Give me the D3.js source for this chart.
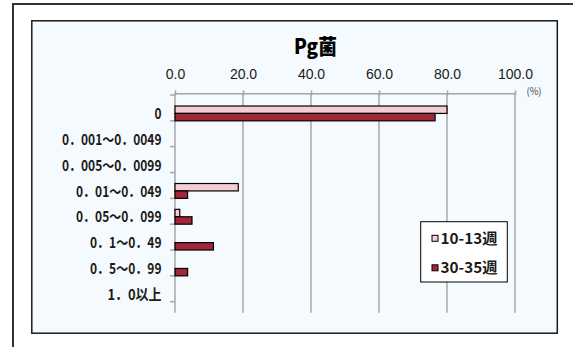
<!DOCTYPE html>
<html>
<head>
<meta charset="utf-8">
<script src="https://cdn.jsdelivr.net/npm/d3@7"></script>
<style>
  html, body { margin: 0; padding: 0; background: #ffffff; }
  svg { display: block; }
</style>
</head>
<body>
<svg id="chart" width="573" height="347"></svg>
<script>
// Category labels (concentration ranges) and the two series, in %.
const categories = [
  "0",
  "0．001～0．0049",
  "0．005～0．0099",
  "0．01～0．049",
  "0．05～0．099",
  "0．1～0．49",
  "0．5～0．99",
  "1．0以上"
];
const seriesNames = ["10-13週", "30-35週"];
const early = [80.0, 0, 0, 18.6, 1.4, 0, 0, 0];
const late = [76.5, 0, 0, 3.7, 5.0, 11.3, 3.7, 0];
const xTicks = [0, 20, 40, 60, 80, 100];
const colors = ["#f4ccd3", "#a0283a"];

const svg = d3.select("#chart");
const jpFont = "'Noto Sans CJK JP', 'Noto Sans CJK SC', sans-serif";

// Narrow, monospaced-looking widths for the condensed Gothic labels.
function labelWidth(s) {
  let w = 0;
  for (const ch of s) {
    if (ch === "．") w += 11.5;
    else if (ch === "～") w += 13.5;
    else if (ch.charCodeAt(0) > 255) w += 14.3;
    else w += 7.0;
  }
  return w;
}

// Outer frame (runs off the page on the right and bottom)
svg.append("rect")
  .attr("x", 13).attr("y", 4).attr("width", 600).attr("height", 400)
  .attr("fill", "#ffffff").attr("stroke", "#333333").attr("stroke-width", 2);

// Chart area
svg.append("rect")
  .attr("x", 31.8).attr("y", 20.8).attr("width", 525.5).attr("height", 312.4)
  .attr("fill", "#f5fafe").attr("stroke", "#1a1a1a").attr("stroke-width", 1.5);

// Title
svg.append("text")
  .attr("x", 294).attr("y", 53.5)
  .attr("font-family", jpFont).attr("font-weight", 900).attr("font-size", 21)
  .attr("textLength", 43).attr("lengthAdjust", "spacingAndGlyphs")
  .attr("fill", "#000")
  .text("Pg菌");

const x = d3.scaleLinear().domain([0, 100]).range([175, 515]);
const y = d3.scaleBand().domain(categories).range([95, 312.7]).padding(0.426);
const yStep = y.step();
const sub = d3.scaleBand().domain(seriesNames).range([0, y.bandwidth()]);

const axisTop = 93.3;
const axisBottom = 312.7;

// Vertical gridlines
svg.append("g").selectAll("line")
  .data(xTicks.slice(1))
  .join("line")
  .attr("x1", d => x(d)).attr("x2", d => x(d))
  .attr("y1", axisTop).attr("y2", axisBottom)
  .attr("stroke", "#a6a6a6").attr("stroke-width", 1.5);

// Top value axis
const gx = svg.append("g")
  .attr("transform", `translate(0,${axisTop})`)
  .call(d3.axisTop(x).tickValues(xTicks).tickFormat(d3.format(".1f")).tickSizeInner(3).tickSizeOuter(0).tickPadding(11));
gx.select(".domain").attr("stroke", "#a6a6a6").attr("stroke-width", 1.5);
gx.selectAll(".tick line").attr("stroke", "#a6a6a6").attr("stroke-width", 1.5).attr("y2", -3).attr("y1", 2);
gx.selectAll(".tick text")
  .attr("font-family", "'Liberation Sans', Arial, sans-serif")
  .attr("font-size", 14).attr("fill", "#1a1a1a");

// Unit label
svg.append("text")
  .attr("x", 526.5).attr("y", 95)
  .attr("font-family", jpFont).attr("font-size", 10).attr("fill", "#444")
  .attr("textLength", 15).attr("lengthAdjust", "spacingAndGlyphs")
  .text("(%)");

// Category axis
svg.append("line")
  .attr("x1", x(0)).attr("x2", x(0)).attr("y1", axisTop).attr("y2", axisBottom)
  .attr("stroke", "#a6a6a6").attr("stroke-width", 1.5);
const boundaries = d3.range(categories.length + 1).map(i => 95 + i * yStep);
svg.append("g").selectAll("line")
  .data(boundaries)
  .join("line")
  .attr("x1", x(0) - 5).attr("x2", x(0))
  .attr("y1", d => d).attr("y2", d => d)
  .attr("stroke", "#a6a6a6").attr("stroke-width", 1.5);

svg.append("g").selectAll("text")
  .data(categories)
  .join("text")
  .attr("x", 161.5)
  .attr("y", d => y(d) + y.bandwidth() / 2 + 5.6)
  .attr("text-anchor", "end")
  .attr("font-family", jpFont).attr("font-weight", 700).attr("font-size", 15)
  .attr("fill", "#1a1a1a")
  .attr("textLength", d => labelWidth(d))
  .attr("lengthAdjust", "spacingAndGlyphs")
  .text(d => d);

// Bars
const rows = categories.map((c, i) => ({ cat: c, values: [early[i], late[i]] }));
const barGroups = svg.append("g").selectAll("g")
  .data(rows)
  .join("g")
  .attr("transform", d => `translate(0,${y(d.cat)})`);
barGroups.selectAll("rect")
  .data(d => d.values.map((v, j) => ({ v, name: seriesNames[j], j })).filter(e => e.v > 0))
  .join("rect")
  .attr("x", x(0))
  .attr("y", d => sub(d.name))
  .attr("width", d => x(d.v) - x(0))
  .attr("height", sub.bandwidth())
  .attr("fill", d => colors[d.j])
  .attr("stroke", "#000").attr("stroke-width", 1.2);

// Legend
const legend = svg.append("g");
legend.append("rect")
  .attr("x", 420.7).attr("y", 221.7).attr("width", 86.6).attr("height", 60.3)
  .attr("fill", "#ffffff").attr("stroke", "#000").attr("stroke-width", 1);
const legendRows = [238.3, 267.8];
seriesNames.forEach((name, i) => {
  legend.append("rect")
    .attr("x", 432).attr("y", legendRows[i] - 3)
    .attr("width", 6).attr("height", 6)
    .attr("fill", colors[i]).attr("stroke", "#000").attr("stroke-width", 1);
  legend.append("text")
    .attr("x", 440.5).attr("y", legendRows[i] + 5.6)
    .attr("font-family", jpFont).attr("font-weight", 700).attr("font-size", 15)
    .attr("fill", "#1a1a1a")
    .attr("textLength", 57).attr("lengthAdjust", "spacingAndGlyphs")
    .text(name);
});
</script>
</body>
</html>
